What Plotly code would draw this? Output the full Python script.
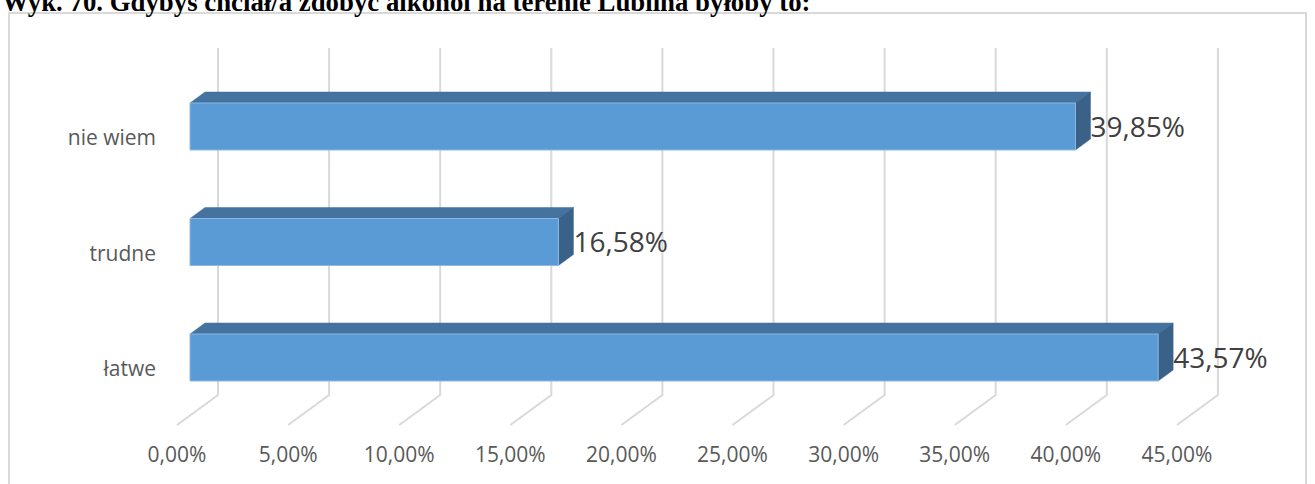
import plotly.graph_objects as go

# ---- data ----
categories = ["łatwe", "trudne", "nie wiem"]
values = [43.57, 16.58, 39.85]
tick_values = [0, 5, 10, 15, 20, 25, 30, 35, 40, 45]
tick_labels = ["0,00%", "5,00%", "10,00%", "15,00%", "20,00%", "25,00%",
               "30,00%", "35,00%", "40,00%", "45,00%"]
value_labels = ["43,57%", "16,58%", "39,85%"]
title_text = "Wyk. 70. Gdybyś chciał/a zdobyć alkohol na terenie Lublina byłoby to:"

# ---- geometry / style constants (3D look) ----
W, H = 1315, 484
ML, MR, MT, MB = 160, 25, 30, 44
PX_PER_PCT = 22.22
PX_PER_CAT = 115.5
X_MIN = (ML - 177) / PX_PER_PCT
X_MAX = (W - MR - 177) / PX_PER_PCT
Y_MIN = (369 - (H - MB)) / PX_PER_CAT
Y_MAX = (369 - MT) / PX_PER_CAT

BAR_X0 = 13 / PX_PER_PCT        # front face start offset
DX = 15 / PX_PER_PCT            # depth offset in x
DY = 11 / PX_PER_CAT            # depth offset in y
BAR_BOT = -12 / PX_PER_CAT
BAR_TOP = 35 / PX_PER_CAT
GRID_BACK_DX = 41 / PX_PER_PCT
Y_FLOOR_FRONT = (369 - 425) / PX_PER_CAT
Y_FLOOR_BACK = (369 - 395) / PX_PER_CAT
Y_GRID_TOP = (369 - 48) / PX_PER_CAT

FRONT = "#5B9BD5"
TOPC = "#44739F"
SIDE = "#3A6288"
GRID = "#D9D9D9"

fig = go.Figure()

# gridlines (floor diagonals + back wall verticals)
gx, gy = [], []
for t in tick_values:
    gx += [t, t + GRID_BACK_DX, t + GRID_BACK_DX, None]
    gy += [Y_FLOOR_FRONT, Y_FLOOR_BACK, Y_GRID_TOP, None]
fig.add_trace(go.Scatter(x=gx, y=gy, mode="lines",
                         line=dict(color=GRID, width=2),
                         hoverinfo="skip", showlegend=False))

# bars
for c, (cat, v) in enumerate(zip(categories, values)):
    x0 = BAR_X0
    x1 = BAR_X0 + v
    yb = c + BAR_BOT
    yt = c + BAR_TOP
    # top face
    fig.add_trace(go.Scatter(
        x=[x0, x1, x1 + DX, x0 + DX, x0], y=[yt, yt, yt + DY, yt + DY, yt],
        fill="toself", fillcolor=TOPC, mode="lines",
        line=dict(color=TOPC, width=0.5), hoverinfo="skip", showlegend=False))
    # side face
    fig.add_trace(go.Scatter(
        x=[x1, x1 + DX, x1 + DX, x1, x1], y=[yb, yb + DY, yt + DY, yt, yb],
        fill="toself", fillcolor=SIDE, mode="lines",
        line=dict(color=SIDE, width=0.5), hoverinfo="skip", showlegend=False))
    # front face
    fig.add_trace(go.Scatter(
        x=[x0, x1, x1, x0, x0], y=[yb, yb, yt, yt, yb],
        fill="toself", fillcolor=FRONT, mode="lines",
        line=dict(color="#8DB8E2", width=1), hoverinfo="skip", showlegend=False))

# value labels
fig.add_trace(go.Scatter(
    x=[BAR_X0 + v + DX for v in values],
    y=[c + 0.07 for c in range(len(values))],
    mode="text", text=value_labels, textposition="middle right",
    textfont=dict(family="Open Sans", size=28, color="#404040"),
    hoverinfo="skip", showlegend=False))

fig.update_layout(
    width=W, height=H,
    margin=dict(l=ML, r=MR, t=MT, b=MB, autoexpand=False),
    paper_bgcolor="white", plot_bgcolor="white",
    font=dict(family="Open Sans", size=21, color="#595959"),
    xaxis=dict(range=[X_MIN, X_MAX], tickvals=tick_values, ticktext=tick_labels,
               showgrid=False, zeroline=False, showline=False, ticks="",
               fixedrange=True, automargin=False),
    yaxis=dict(range=[Y_MIN, Y_MAX], tickvals=list(range(len(categories))),
               ticktext=categories, showgrid=False, zeroline=False,
               showline=False, ticks="", ticklabelstandoff=3, fixedrange=True,
               automargin=False),
    shapes=[dict(type="rect", xref="paper", yref="paper",
                 x0=(9 - ML) / (W - ML - MR), x1=(1306 - ML) / (W - ML - MR),
                 y0=((H - MB) - 500) / (H - MT - MB),
                 y1=((H - MB) - 13) / (H - MT - MB),
                 line=dict(color="#D9D9D9", width=2), layer="below")],
    annotations=[dict(text="<b>" + title_text + "</b>", xref="paper", yref="paper",
                      x=(0 - ML) / (W - ML - MR), xanchor="left",
                      y=((H - MB) - 2) / (H - MT - MB), yanchor="middle",
                      showarrow=False,
                      font=dict(family="Liberation Serif", size=26.8, color="#000000"))],
)

fig.write_html("out.html", config={"displayModeBar": False},
               post_script="document.body.style.margin='0px';")
